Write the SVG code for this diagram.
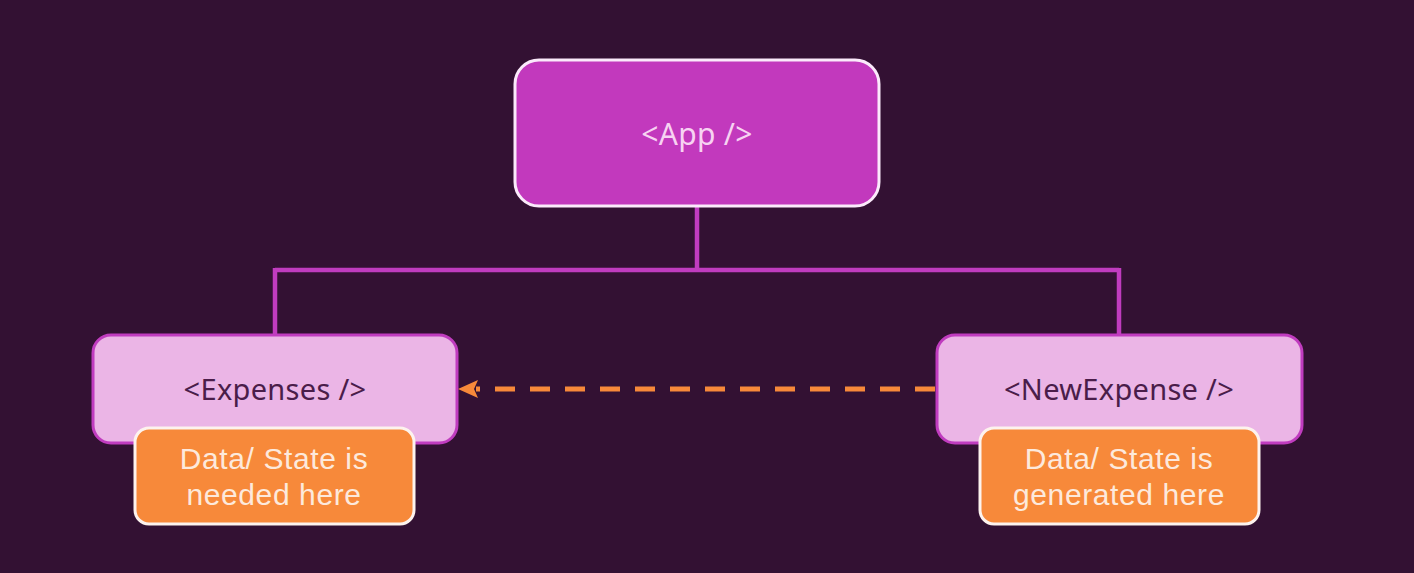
<svg xmlns="http://www.w3.org/2000/svg" width="1414" height="573" viewBox="0 0 1414 573">
<defs>
<style>
.bg{fill:#331133}
.app{fill:#c239bd;stroke:#fbeafb;stroke-width:3}
.comp{fill:#ebb5e6;stroke:#c03cbf;stroke-width:3}
.note{fill:#f7893a;stroke:#fdf3ee;stroke-width:3}
.wire{fill:none;stroke:#c03cbf;stroke-width:4.5}
.dash{fill:none;stroke:#f7893a;stroke-width:5;stroke-dasharray:20 15}
text{font-family:"Noto Sans","Open Sans","Liberation Sans",sans-serif;text-anchor:middle}
.t-app{fill:#f7d2f2;font-size:30px;letter-spacing:0.3px}
.t-comp{fill:#4a1d4a;font-size:29px;letter-spacing:0.3px}
.t-note{fill:#fde9dc;font-family:"Liberation Sans","Noto Sans",sans-serif;font-size:30px;letter-spacing:0.6px}
</style>
</defs>
<rect class="bg" x="0" y="0" width="1414" height="573"/>
<g id="connectors">
<path class="wire" d="M697 206 V270 M275 270 H1119 M275 268 V336 M1119 268 V336"/>
<path class="dash" d="M935 389 H476"/>
<polygon fill="#f7893a" points="458,389 478,380 474,389 478,398"/>
</g>
<g id="app">
<rect class="app" x="515" y="60" width="364" height="146" rx="24"/>
<text class="t-app" x="697" y="145">&lt;App /&gt;</text>
</g>
<g id="expenses">
<rect class="comp" x="93" y="335" width="364" height="108" rx="18"/>
<text class="t-comp" x="275" y="400">&lt;Expenses /&gt;</text>
</g>
<g id="newexpense">
<rect class="comp" x="937" y="335" width="365" height="108" rx="18"/>
<text class="t-comp" x="1119" y="400">&lt;NewExpense /&gt;</text>
</g>
<g id="note-needed">
<rect class="note" x="135" y="428" width="279" height="96" rx="14"/>
<text class="t-note" x="274" y="469">Data/ State is</text>
<text class="t-note" x="274" y="505">needed here</text>
</g>
<g id="note-generated">
<rect class="note" x="980" y="428" width="279" height="96" rx="14"/>
<text class="t-note" x="1119" y="469">Data/ State is</text>
<text class="t-note" x="1119" y="505">generated here</text>
</g>
</svg>
